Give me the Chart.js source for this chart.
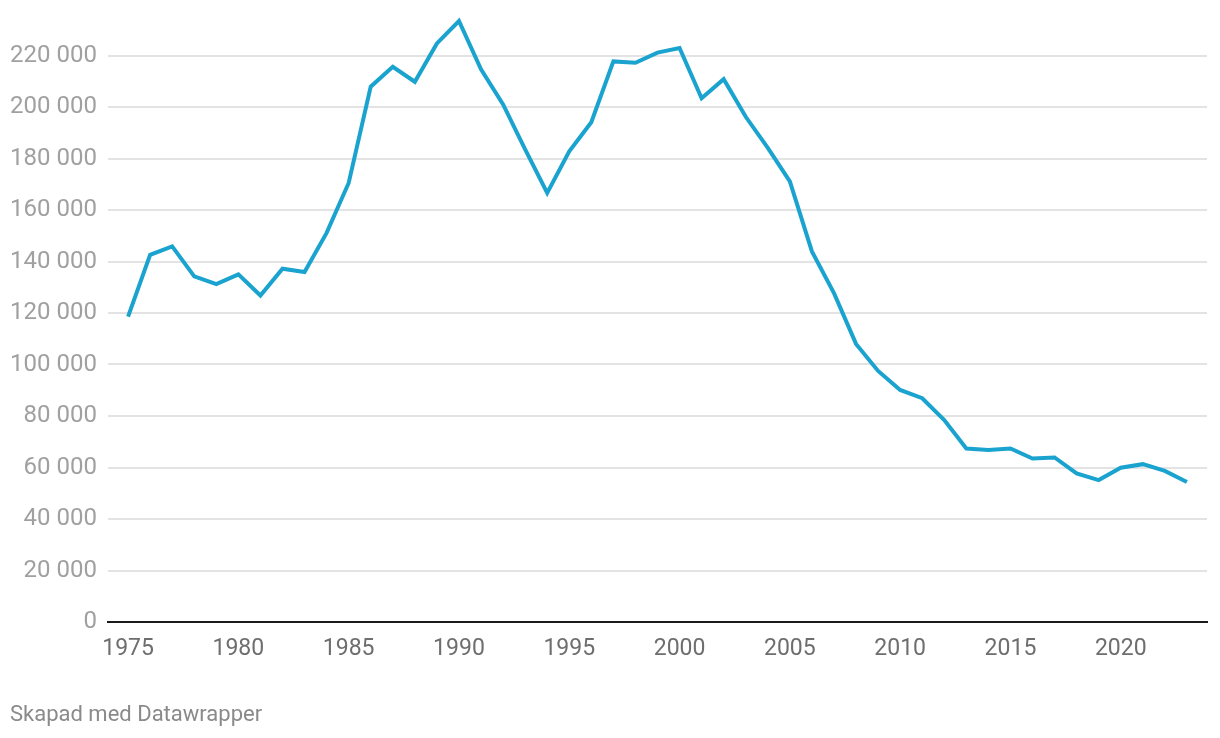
<!DOCTYPE html>
<html>
<head>
<meta charset="utf-8">
<script src="https://cdn.jsdelivr.net/npm/chart.js@4/dist/chart.umd.min.js"></script>
<style>
  html, body { margin: 0; padding: 0; background: #fff; }
  #wrap { position: relative; width: 1220px; height: 738px; }
  #footer {
    position: absolute; left: 10px; top: 701px;
    font-family: Roboto, sans-serif; font-size: 22px; color: #8a8a8a;
  }
</style>
</head>
<body>
<div id="wrap">
  <canvas id="chart" width="1220" height="738"></canvas>
  <div id="footer">Skapad med Datawrapper</div>
</div>
<script>
const years = [];
for (let y = 1975; y <= 2023; y++) years.push(y);

const values = [
  118600, 142600, 145900, 134200, 131200, 135000, 126800, 137200, 135900, 151100,
  170500, 207900, 215600, 209800, 224700, 233400, 214600, 201000, 183500, 166600,
  182800, 194100, 217700, 217200, 221100, 222900, 203400, 210800, 196200, 184100,
  171100, 143900, 127700, 108000, 97500, 90100, 86900, 78400, 67400, 66800,
  67400, 63500, 63900, 57700, 55100, 59900, 61300, 58700, 54400
];

const xTickYears = [1975, 1980, 1985, 1990, 1995, 2000, 2005, 2010, 2015, 2020];
const yTickValues = [0, 20000, 40000, 60000, 80000, 100000, 120000, 140000, 160000, 180000, 200000, 220000];

function fmt(v) {
  return String(v).replace(/\B(?=(\d{3})+(?!\d))/g, ' ');
}

const ctx = document.getElementById('chart').getContext('2d');
new Chart(ctx, {
  type: 'line',
  data: {
    datasets: [{
      data: years.map((y, i) => ({ x: y, y: values[i] })),
      borderColor: '#1aa3cf',
      borderWidth: 4,
      pointRadius: 0,
      tension: 0,
      fill: false
    }]
  },
  options: {
    responsive: false,
    animation: false,
    layout: { autoPadding: false, padding: { left: 0, right: 13, top: 4, bottom: 0 } },
    plugins: { legend: { display: false }, tooltip: { enabled: false } },
    scales: {
      x: {
        type: 'linear',
        min: 1974.09,
        max: 2023.91,
        afterBuildTicks: s => { s.ticks = xTickYears.map(v => ({ value: v })); },
        afterFit: s => { s.height = 116; s.paddingLeft = 0; s.paddingRight = 0; },
        grid: { display: false, drawTicks: false },
        border: { display: true, color: '#1a1a1a', width: 2 },
        ticks: {
          padding: 13,
          color: '#6e6e6e',
          font: { family: 'Roboto', size: 23 },
          maxRotation: 0,
          autoSkip: false,
          callback: v => String(v)
        }
      },
      y: {
        min: 0,
        max: 240000,
        afterBuildTicks: s => { s.ticks = yTickValues.map(v => ({ value: v })); },
        afterFit: s => { s.width = 108; s.paddingTop = 0; s.paddingBottom = 0; },
        grid: {
          color: c => c.tick && c.tick.value === 0 ? 'rgba(0,0,0,0)' : '#e3e3e3',
          lineWidth: 2,
          drawTicks: false
        },
        border: { display: false },
        ticks: {
          padding: 11,
          color: '#a0a0a0',
          font: { family: 'Roboto', size: 24 },
          callback: v => fmt(v)
        }
      }
    }
  }
});
</script>
</body>
</html>
